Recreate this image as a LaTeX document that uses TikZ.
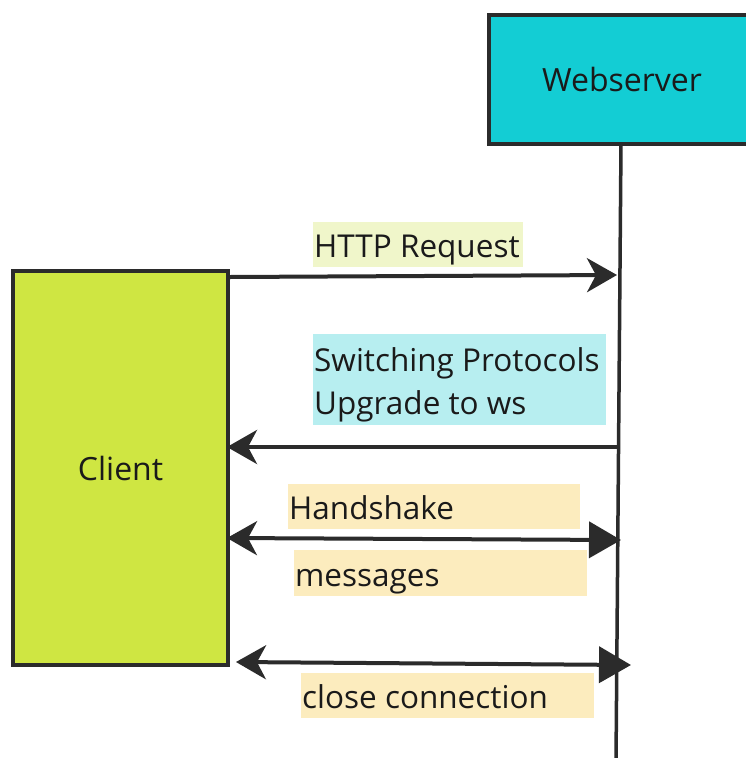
\documentclass[tikz,border=0pt]{standalone}
\usepackage{fontspec}
\setmainfont{Open Sans}
\usetikzlibrary{arrows.meta}
\definecolor{webfill}{RGB}{19,205,212}
\definecolor{clifill}{RGB}{207,230,66}
\definecolor{httpbg}{RGB}{240,246,202}
\definecolor{swbg}{RGB}{183,238,240}
\definecolor{hsbg}{RGB}{252,236,190}
\definecolor{ink}{RGB}{43,43,43}
\definecolor{txt}{RGB}{26,26,26}
\newcommand{\lbline}[2]{\raisebox{0pt}[30pt][4pt]{\makebox[#1][l]{#2}}}
\tikzset{
  box/.style={draw=ink, line width=4pt, inner sep=0pt, text=txt, font=\fontsize{32}{40}\selectfont},
  lbl/.style={inner xsep=1pt, inner ysep=0pt, anchor=north west, align=left, text=txt, font=\fontsize{31.5}{43}\selectfont},
  arr/.style={draw=ink, line width=4pt},
  tipL/.tip={Stealth[length=30pt,width=34pt,inset=9pt]},
  tipR/.tip={Triangle[length=32pt,width=36pt]},
  life/.style={draw=ink, line width=3.5pt}
}
\begin{document}
\begin{tikzpicture}[x=1pt,y=-1pt]
\clip (0,0) rectangle (746,758);
\fill[white] (0,0) rectangle (746,758);
% boxes
\node[box, fill=webfill, minimum width=264pt, minimum height=129pt, anchor=north west] (web) at (487,13) {\hspace*{2pt}Webserver};
\node[box, fill=clifill, minimum width=215pt, minimum height=394pt, anchor=north west] (client) at (11,269) {Client};
% lifeline
\coordinate (ltop) at (621,144);
\coordinate (lbot) at (616,762);
\draw[life] (ltop) -- (lbot);
% labels
\node[lbl, fill=httpbg, minimum height=45pt] (http) at (313,222) {\lbline{208pt}{HTTP Request}};
\node[lbl, fill=swbg, minimum height=91pt] (sw) at (313,334) {\lbline{291pt}{Switching Protocols}\\\lbline{291pt}{Upgrade to ws}};
\node[lbl, fill=hsbg, minimum height=45pt] (hs) at (288,484) {\lbline{290pt}{Handshake}};
\node[lbl, fill=hsbg, minimum height=46pt] (msg) at (294,550) {\lbline{291pt}{messages}};
\node[lbl, fill=hsbg, minimum height=45pt] (close) at (301,673) {\lbline{291pt}{close connection}};
% connector endpoints
\coordinate (c1) at (230,277);
\coordinate (w1) at (617,275);
\coordinate (w2) at (619,447);
\coordinate (c2) at (227,447);
\coordinate (c3) at (227,538);
\coordinate (w3) at (621,540);
\coordinate (c4) at (236,662);
\coordinate (w4) at (631,665);
% connectors
\draw[arr, -tipL] (c1) -- (w1);
\draw[arr, -tipL] (w2) -- (c2);
\draw[arr, tipL-tipR] (c3) -- (w3);
\draw[arr, tipL-tipR] (c4) -- (w4);
\end{tikzpicture}
\end{document}
